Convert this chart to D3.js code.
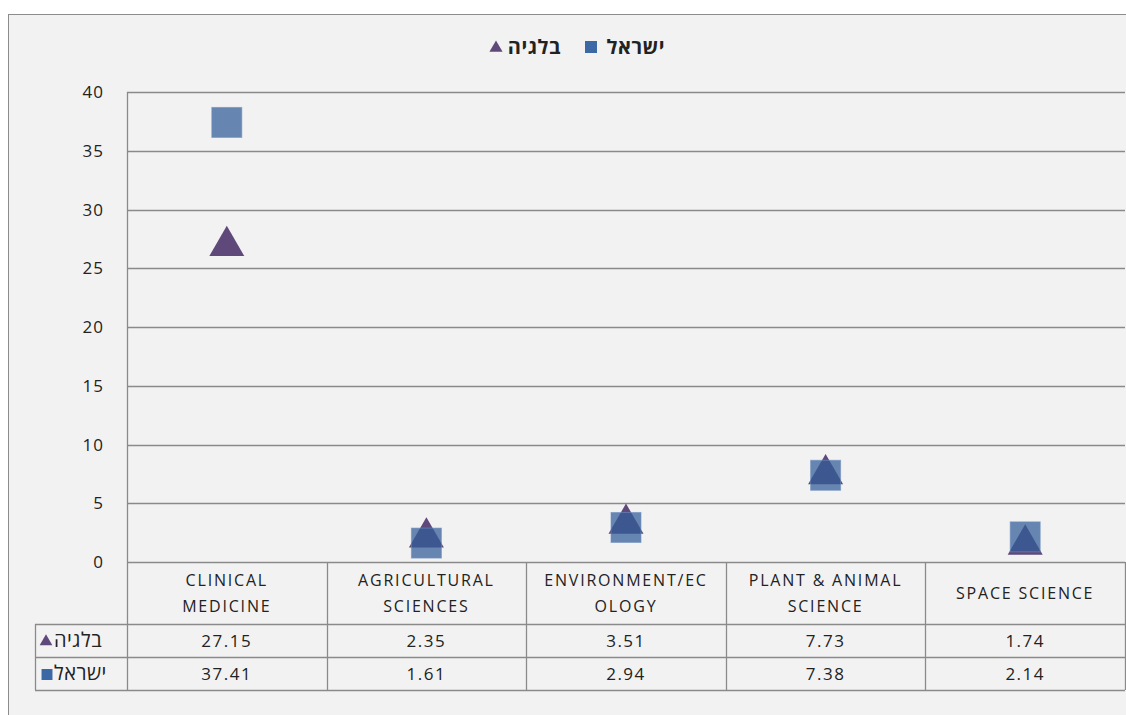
<!DOCTYPE html>
<html>
<head>
<meta charset="utf-8">
<script src="https://cdn.jsdelivr.net/npm/d3@7"></script>
<style>
  body { margin: 0; background: #fff; }
  text { font-family: "Open Sans", "DejaVu Sans", sans-serif; fill: #222; }
</style>
</head>
<body>
<div id="chart"></div>
<script>
const width = 1126;
const height = 715;

// data
const categories = [
  ["CLINICAL", "MEDICINE"],
  ["AGRICULTURAL", "SCIENCES"],
  ["ENVIRONMENT/EC", "OLOGY"],
  ["PLANT & ANIMAL", "SCIENCE"],
  ["SPACE SCIENCE"]
];
const belgium = [27.15, 2.35, 3.51, 7.73, 1.74];
const israel = [37.41, 1.61, 2.94, 7.38, 2.14];
const belgiumName = "בלגיה";
const israelName = "ישראל";
const yTicks = [0, 5, 10, 15, 20, 25, 30, 35, 40];

const triColor = "#5f497a";
const sqColor = "#315d98";
const gridColor = "#8a8a8a";

const svg = d3.select("#chart")
  .append("svg")
  .attr("width", width)
  .attr("height", height);

// chart frame
svg.append("rect")
  .attr("x", 8.5).attr("y", 14.5)
  .attr("width", width + 10).attr("height", height + 10)
  .attr("fill", "#f2f2f2")
  .attr("stroke", "#8c8c8c");

const plotLeft = 127, plotRight = 1125;
const tableLeft = 35;
const rowH = 33;

const x = d3.scaleBand()
  .domain(d3.range(categories.length))
  .range([plotLeft, plotRight]);

const y = d3.scaleLinear()
  .domain([0, 40])
  .range([562, 92]);

const headerBottom = 624;
const tableBottom = headerBottom + rowH * 2;

// gridlines
svg.append("g").selectAll("line")
  .data(yTicks)
  .join("line")
    .attr("x1", plotLeft).attr("x2", plotRight)
    .attr("y1", d => Math.round(y(d)) + 0.5)
    .attr("y2", d => Math.round(y(d)) + 0.5)
    .attr("stroke", gridColor)
    .attr("stroke-width", 1.3);

// y tick labels
svg.append("g").selectAll("text")
  .data(yTicks)
  .join("text")
    .attr("x", 104)
    .attr("y", d => y(d) + 6)
    .attr("text-anchor", "end")
    .attr("font-size", 17)
    .attr("letter-spacing", "1px")
    .text(d => d);

// table lines
const tbl = svg.append("g")
  .attr("stroke", gridColor)
  .attr("stroke-width", 1.3);

tbl.append("line")
  .attr("x1", plotLeft + 0.5).attr("x2", plotLeft + 0.5)
  .attr("y1", y(40)).attr("y2", tableBottom);

d3.range(1, categories.length + 1).forEach(i => {
  const xx = Math.round(plotLeft + i * x.bandwidth()) + 0.5;
  tbl.append("line")
    .attr("x1", xx).attr("x2", xx)
    .attr("y1", y(0)).attr("y2", tableBottom);
});

tbl.append("line")
  .attr("x1", tableLeft + 0.5).attr("x2", tableLeft + 0.5)
  .attr("y1", headerBottom).attr("y2", tableBottom);

[headerBottom, headerBottom + rowH, tableBottom].forEach(yy => {
  tbl.append("line")
    .attr("x1", tableLeft).attr("x2", plotRight)
    .attr("y1", yy + 0.5).attr("y2", yy + 0.5);
});

// category headers
categories.forEach((lines, i) => {
  const cx = x(i) + x.bandwidth() / 2;
  const mid = (y(0) + headerBottom) / 2;
  lines.forEach((t, j) => {
    svg.append("text")
      .attr("x", cx)
      .attr("y", mid + (j - (lines.length - 1) / 2) * 26 + 6)
      .attr("text-anchor", "middle")
      .attr("font-size", 16)
      .attr("letter-spacing", "1.8px")
      .text(t);
  });
});

// table values
const triPath = d3.symbol().type(d3.symbolTriangle);
const sqPath = d3.symbol().type(d3.symbolSquare);

[[belgium, belgiumName, "tri"], [israel, israelName, "sq"]].forEach(([vals, name, kind], r) => {
  const cy = headerBottom + rowH * r + rowH / 2;
  vals.forEach((v, i) => {
    svg.append("text")
      .attr("x", x(i) + x.bandwidth() / 2)
      .attr("y", cy + 6)
      .attr("text-anchor", "middle")
      .attr("font-size", 17)
      .attr("letter-spacing", "1.5px")
      .text(v.toFixed(2));
  });
  svg.append("text")
    .attr("x", 54)
    .attr("y", cy + 6)
    .attr("text-anchor", "start")
    .attr("font-size", 20)
    .attr("letter-spacing", "0.5px")
    .text(name);
  svg.append("path")
    .attr("transform", `translate(${kind === "tri" ? 46 : 47},${cy + 1})`)
    .attr("d", kind === "tri" ? triPath.size(70)() : sqPath.size(120)())
    .attr("fill", kind === "tri" ? triColor : "#3c69a6");
});

// markers: triangles first, squares on top
svg.append("g").selectAll("path")
  .data(belgium)
  .join("path")
    .attr("transform", (d, i) => `translate(${x(i) + x.bandwidth() / 2},${y(d) + 3})`)
    .attr("d", triPath.size(530)())
    .attr("fill", triColor);

svg.append("g").selectAll("rect")
  .data(israel)
  .join("rect")
    .attr("x", (d, i) => x(i) + x.bandwidth() / 2 - 15)
    .attr("y", d => y(d) - 15)
    .attr("width", 30)
    .attr("height", 30)
    .attr("fill", sqColor)
    .attr("fill-opacity", 0.73)
    .attr("stroke", "#6f8fbf")
    .attr("stroke-opacity", 0.6);

// legend
const lg = svg.append("g");
lg.append("path")
  .attr("transform", "translate(496,48)")
  .attr("d", triPath.size(75)())
  .attr("fill", triColor);
lg.append("text")
  .attr("x", 561).attr("y", 54)
  .attr("text-anchor", "end")
  .attr("font-size", 20)
  .attr("font-weight", "bold")
  .attr("letter-spacing", "0.5px")
  .text(belgiumName);
lg.append("rect")
  .attr("x", 585).attr("y", 41)
  .attr("width", 12).attr("height", 12)
  .attr("fill", "#3c69a6");
lg.append("text")
  .attr("x", 665).attr("y", 54)
  .attr("text-anchor", "end")
  .attr("font-size", 20)
  .attr("font-weight", "bold")
  .attr("letter-spacing", "0.5px")
  .text(israelName);
</script>
</body>
</html>
